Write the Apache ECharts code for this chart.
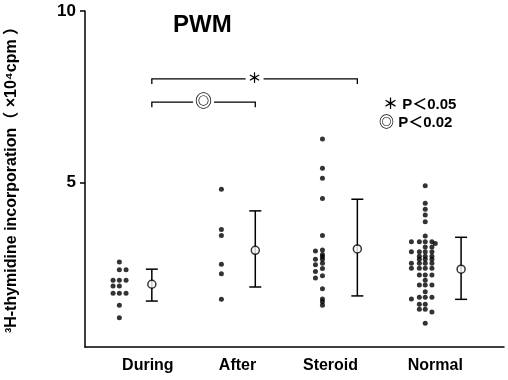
<!DOCTYPE html>
<html><head><meta charset="utf-8">
<script src="https://cdn.jsdelivr.net/npm/echarts@6/dist/echarts.min.js"></script>
<style>html,body{margin:0;padding:0;background:#fff}#c{width:508px;height:380px}</style>
</head><body><div id="c"></div>
<script>
// ---------------- data ----------------
const categories = ['During', 'After', 'Steroid', 'Normal'];
const yTickValues = [5, 10];
const titleText = 'PWM';
const yAxisName = '³H-thymidine incorporation（ ×10⁴cpm ）';

// individual values (×10^4 cpm) and the jitter column each dot sits in
const duringValues  = [2.68, 2.45, 2.15, 1.98, 1.77, 1.42, 1.05, 2.15, 1.98, 1.77, 2.45, 2.15, 1.77];
const duringColumns = [1, 1, 1, 1, 1, 1, 1, 0, 0, 0, 2, 2, 2];

const afterValues  = [4.80, 3.63, 3.45, 2.61, 2.34, 1.59];
const afterColumns = [0, 0, 0, 0, 0, 0];

const steroidValues  = [6.27, 5.41, 5.12, 4.53, 3.45, 3.03, 2.90, 2.83, 2.76, 2.64, 2.49, 2.28, 1.90, 1.60, 1.52, 1.42,
                        3.00, 2.76, 2.60, 2.40, 2.21];
const steroidColumns = [1, 1, 1, 1, 1, 1, 1, 1, 1, 1, 1, 1, 1, 1, 1, 1,
                        0, 0, 0, 0, 0];

const normalValues = [4.90, 4.39, 4.22, 4.05, 3.85, 3.44,
                      3.27, 3.27, 3.27, 3.27, 3.22,
                      3.12, 3.12,
                      2.98, 2.98, 2.98, 2.98,
                      2.85, 2.85, 2.85,
                      2.76, 2.76, 2.76,
                      2.64, 2.64, 2.64, 2.64,
                      2.50, 2.50, 2.50, 2.50,
                      2.30, 2.30, 2.30,
                      2.15,
                      2.01, 2.01, 2.01,
                      1.81,
                      1.65, 1.65, 1.65, 1.60,
                      1.45, 1.45,
                      1.30, 1.30, 1.22,
                      0.89];
const normalColumns = [2, 2, 2, 2, 2, 2,
                       0, 1, 2, 3, 4,
                       2, 3,
                       0, 1, 2, 3,
                       1, 2, 3,
                       1, 2, 3,
                       0, 1, 2, 3,
                       0, 1, 2, 3,
                       1, 2, 3,
                       2,
                       1, 2, 3,
                       2,
                       1, 2, 3, 0,
                       1, 2,
                       1, 2, 3,
                       2];

// mean ± SD per group
const meanValues = [2.03, 3.02, 3.06, 2.47];
const sdLow      = [1.54, 1.95, 1.69, 1.59];
const sdHigh     = [2.47, 4.17, 4.51, 3.40];

// significance comparisons: [fromGroup, toGroup, marker]
const comparisons = [[0, 2, '＊'], [0, 1, '◎']];
const legendTexts = ['＊ P＜0.05', '◎ P＜0.02'];

// ---------------- layout (x units on a 0..10 axis) ----------------
const layout = {
  dotCols: [[0.67, 0.82, 0.98], [3.255], [5.50, 5.667], [7.79, 7.98, 8.12, 8.28, 8.36]],
  meanX: [1.595, 4.064, 6.5, 8.976],
  labelX: [1.5, 3.64, 5.86, 8.36],
  bracketY: [8.02, 7.34],
  bracketDrop: 0.15
};

const groupValues = [duringValues, afterValues, steroidValues, normalValues];
const groupColumns = [duringColumns, afterColumns, steroidColumns, normalColumns];

const dots = [];
groupValues.forEach((vals, g) => {
  vals.forEach((v, i) => dots.push([layout.dotCols[g][groupColumns[g][i]], v]));
});
const sdData = meanValues.map((m, g) => [layout.meanX[g], sdLow[g], sdHigh[g]]);
const meanData = meanValues.map((m, g) => [layout.meanX[g], m]);
const bracketData = comparisons.map((c, k) => [layout.meanX[c[0]], layout.meanX[c[1]], layout.bracketY[k], k]);

const FONT = "'Liberation Sans', Arial, 'Noto Sans CJK JP', sans-serif";

const chart = echarts.init(document.getElementById('c'), null, {renderer: 'canvas'});
chart.setOption({
  animation: false,
  backgroundColor: '#fff',
  title: {
    text: titleText, left: 168, top: 8,
    textStyle: {fontFamily: FONT, fontWeight: 'bold', fontSize: 24, color: '#000'}
  },
  grid: {left: 85, right: 4, top: 11, bottom: 33},
  xAxis: {
    type: 'value', min: 0, max: 10,
    splitLine: {show: false},
    axisLine: {show: true, lineStyle: {color: '#000', width: 1.5}},
    axisTick: {show: false},
    axisLabel: {
      show: true, customValues: layout.labelX, margin: 11,
      formatter: (v) => {
        let best = 0;
        layout.labelX.forEach((x, i) => { if (Math.abs(x - v) < Math.abs(layout.labelX[best] - v)) best = i; });
        return categories[best];
      },
      fontFamily: FONT, fontWeight: 'bold', fontSize: 16, color: '#000'
    }
  },
  yAxis: {
    type: 'value', min: 0.2, max: 10,
    splitLine: {show: false},
    axisLine: {show: true, lineStyle: {color: '#000', width: 1.5}},
    axisTick: {show: true, customValues: yTickValues, length: 5, lineStyle: {color: '#000', width: 1.5}},
    axisLabel: {show: true, customValues: yTickValues, margin: 9,
      fontFamily: FONT, fontWeight: 'bold', fontSize: 17, color: '#000'}
  },
  graphic: [
    {type: 'text', x: 12, y: 176, rotation: Math.PI / 2,
     style: {text: yAxisName, font: 'bold 16px ' + FONT, fill: '#000', align: 'center', verticalAlign: 'middle'}},
    {type: 'text', left: 383, top: 97, style: {text: legendTexts[0], font: 'bold 15px ' + FONT, fill: '#000'}},
    {type: 'text', left: 379, top: 115, style: {text: legendTexts[1], font: 'bold 15px ' + FONT, fill: '#000'}}
  ],
  series: [
    {
      type: 'scatter', name: 'individual', data: dots,
      symbol: 'circle', symbolSize: 5, itemStyle: {color: '#000'}, z: 3
    },
    {
      type: 'custom', name: 'sd', data: sdData, z: 2,
      renderItem: (params, api) => {
        const x = api.value(0), lo = api.value(1), hi = api.value(2);
        const pLo = api.coord([x, lo]), pHi = api.coord([x, hi]);
        const w = 6, st = {stroke: '#000', lineWidth: 1.5};
        return {type: 'group', children: [
          {type: 'line', shape: {x1: pLo[0], y1: pLo[1], x2: pHi[0], y2: pHi[1]}, style: st},
          {type: 'line', shape: {x1: pLo[0] - w, y1: pLo[1], x2: pLo[0] + w, y2: pLo[1]}, style: st},
          {type: 'line', shape: {x1: pHi[0] - w, y1: pHi[1], x2: pHi[0] + w, y2: pHi[1]}, style: st}
        ]};
      }
    },
    {
      type: 'scatter', name: 'mean', data: meanData, z: 4,
      symbol: 'circle', symbolSize: 8,
      itemStyle: {color: '#fff', borderColor: '#000', borderWidth: 1.5}
    },
    {
      type: 'custom', name: 'brackets', data: bracketData, z: 2,
      renderItem: (params, api) => {
        const x1 = api.value(0), x2 = api.value(1), y = api.value(2), k = api.value(3);
        const a = api.coord([x1, y]), b = api.coord([x2, y]);
        const a2 = api.coord([x1, y - layout.bracketDrop]), b2 = api.coord([x2, y - layout.bracketDrop]);
        const st = {stroke: '#000', lineWidth: 1.3, fill: null};
        const fs = k === 1 ? 17 : 14;
        return {type: 'group', children: [
          {type: 'polyline', shape: {points: [a2, a, b, b2]}, style: st},
          {type: 'text', x: (a[0] + b[0]) / 2, y: a[1], style: {
            text: comparisons[k][2], font: 'bold ' + fs + 'px ' + FONT, fill: '#000',
            align: 'center', verticalAlign: 'middle', backgroundColor: '#fff', padding: [0, 2]}}
        ]};
      }
    }
  ]
});
</script></body></html>
